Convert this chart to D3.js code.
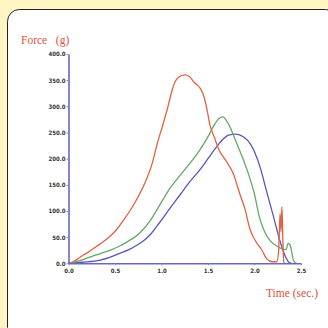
<!DOCTYPE html>
<html>
<head>
<meta charset="utf-8">
<script src="https://cdn.jsdelivr.net/npm/d3@7"></script>
<style>
  html, body { margin: 0; padding: 0; background: #fff6c4; }
  svg { display: block; }
</style>
</head>
<body>
<div id="chart"></div>
<script>
// force curves: [time (s), force (g)]
const redCurve = [
  [0, 0], [0.06, 4], [0.12, 11], [0.20, 20], [0.30, 32], [0.38, 42], [0.45, 52],
  [0.52, 65], [0.59, 82], [0.66, 100], [0.73, 121], [0.82, 153],
  [0.90, 191], [0.95, 226], [1.01, 262], [1.06, 293], [1.13, 340], [1.18, 355], [1.25, 360],
  [1.30, 357], [1.35, 346], [1.41, 336], [1.45, 322], [1.49, 293], [1.52, 265],
  [1.57, 240], [1.61, 220], [1.70, 194], [1.77, 172], [1.84, 134], [1.90, 102],
  [1.95, 66], [2.00, 46], [2.08, 25], [2.13, 9], [2.19, 3], [2.24, 3], [2.26, 25],
  [2.275, 95], [2.285, 60], [2.295, 108], [2.305, 45], [2.315, 2], [2.33, 0]
];
const greenCurve = [
  [0, 0], [0.12, 5], [0.23, 12], [0.35, 19], [0.45, 25], [0.55, 33], [0.63, 41],
  [0.72, 51], [0.80, 64], [0.88, 82], [0.95, 102], [1.02, 123], [1.09, 143],
  [1.20, 168], [1.30, 190], [1.41, 216], [1.50, 242], [1.56, 262], [1.62, 277], [1.66, 280],
  [1.72, 266], [1.81, 229], [1.88, 198], [1.94, 168], [2.00, 132], [2.05, 90], [2.11, 60],
  [2.17, 43], [2.24, 33], [2.29, 28], [2.34, 26], [2.36, 38], [2.38, 36],
  [2.40, 22], [2.42, 5], [2.45, 0]
];
const blueCurve = [
  [0, 0], [0.15, 2], [0.34, 6], [0.45, 12], [0.55, 19], [0.65, 26], [0.73, 34],
  [0.80, 42], [0.88, 55], [0.98, 78], [1.09, 105], [1.20, 131], [1.30, 155],
  [1.41, 178], [1.50, 200], [1.59, 222], [1.66, 237], [1.72, 245], [1.80, 247], [1.88, 242],
  [1.94, 232], [2.00, 213], [2.07, 178], [2.12, 144], [2.20, 92], [2.27, 45], [2.33, 14],
  [2.37, 2], [2.40, 0]
];
const xTicks = [0, 0.5, 1.0, 1.5, 2.0, 2.5];
const yTicks = [0, 50, 100, 150, 200, 250, 300, 350, 400];

const width = 328;
const height = 328;

const svg = d3.select("#chart")
  .append("svg")
  .attr("width", width)
  .attr("height", height);

// white panel with rounded border
svg.append("rect")
  .attr("x", 7.5)
  .attr("y", 9.5)
  .attr("width", 330)
  .attr("height", 330)
  .attr("rx", 12)
  .attr("fill", "#ffffff")
  .attr("stroke", "#222")
  .attr("stroke-width", 1);

const xScale = d3.scaleLinear().domain([0, 2.5]).range([68.5, 301]);
const yScale = d3.scaleLinear().domain([0, 400]).range([263.3, 54]);

const line = d3.line()
  .curve(d3.curveMonotoneX)
  .x((d) => xScale(d[0]))
  .y((d) => yScale(d[1]));

const series = [
  { data: blueCurve, color: "#5a55b8" },
  { data: greenCurve, color: "#62a868" },
  { data: redCurve, color: "#e4623f" }
];

series.forEach((s) => {
  svg.append("path")
    .datum(s.data)
    .attr("fill", "none")
    .attr("stroke", s.color)
    .attr("stroke-width", 1.3)
    .attr("stroke-linejoin", "round")
    .attr("d", line);
});

// axes
const xAxis = svg.append("g")
  .attr("transform", `translate(0,${yScale(0)})`)
  .call(d3.axisBottom(xScale).tickValues(xTicks).tickFormat(d3.format(".1f"))
    .tickSizeInner(2).tickSizeOuter(0).tickPadding(3));

const yAxis = svg.append("g")
  .attr("transform", `translate(${xScale(0)},0)`)
  .call(d3.axisLeft(yScale).tickValues(yTicks).tickFormat(d3.format(".1f"))
    .tickSizeInner(2).tickSizeOuter(0).tickPadding(1));

[xAxis, yAxis].forEach((g) => {
  g.select(".domain").attr("stroke", "#6a66c4").attr("stroke-width", 1.6);
  g.selectAll(".tick line").attr("stroke", "#8884c8");
  g.selectAll(".tick text")
    .attr("fill", "#333")
    .attr("font-family", "DejaVu Sans Condensed, DejaVu Sans, sans-serif")
    .attr("font-size", 6)
    .attr("font-weight", "bold");
});

// axis titles
svg.append("text")
  .attr("x", 21)
  .attr("y", 44)
  .attr("fill", "#e0523c")
  .attr("font-family", "Liberation Serif, DejaVu Serif, serif")
  .attr("font-size", 11.5)
  .attr("xml:space", "preserve")
  .text("Force   (g)");

svg.append("text")
  .attr("x", 266)
  .attr("y", 297)
  .attr("fill", "#e0523c")
  .attr("font-family", "Liberation Serif, DejaVu Serif, serif")
  .attr("font-size", 11.5)
  .text("Time (sec.)");
</script>
</body>
</html>
